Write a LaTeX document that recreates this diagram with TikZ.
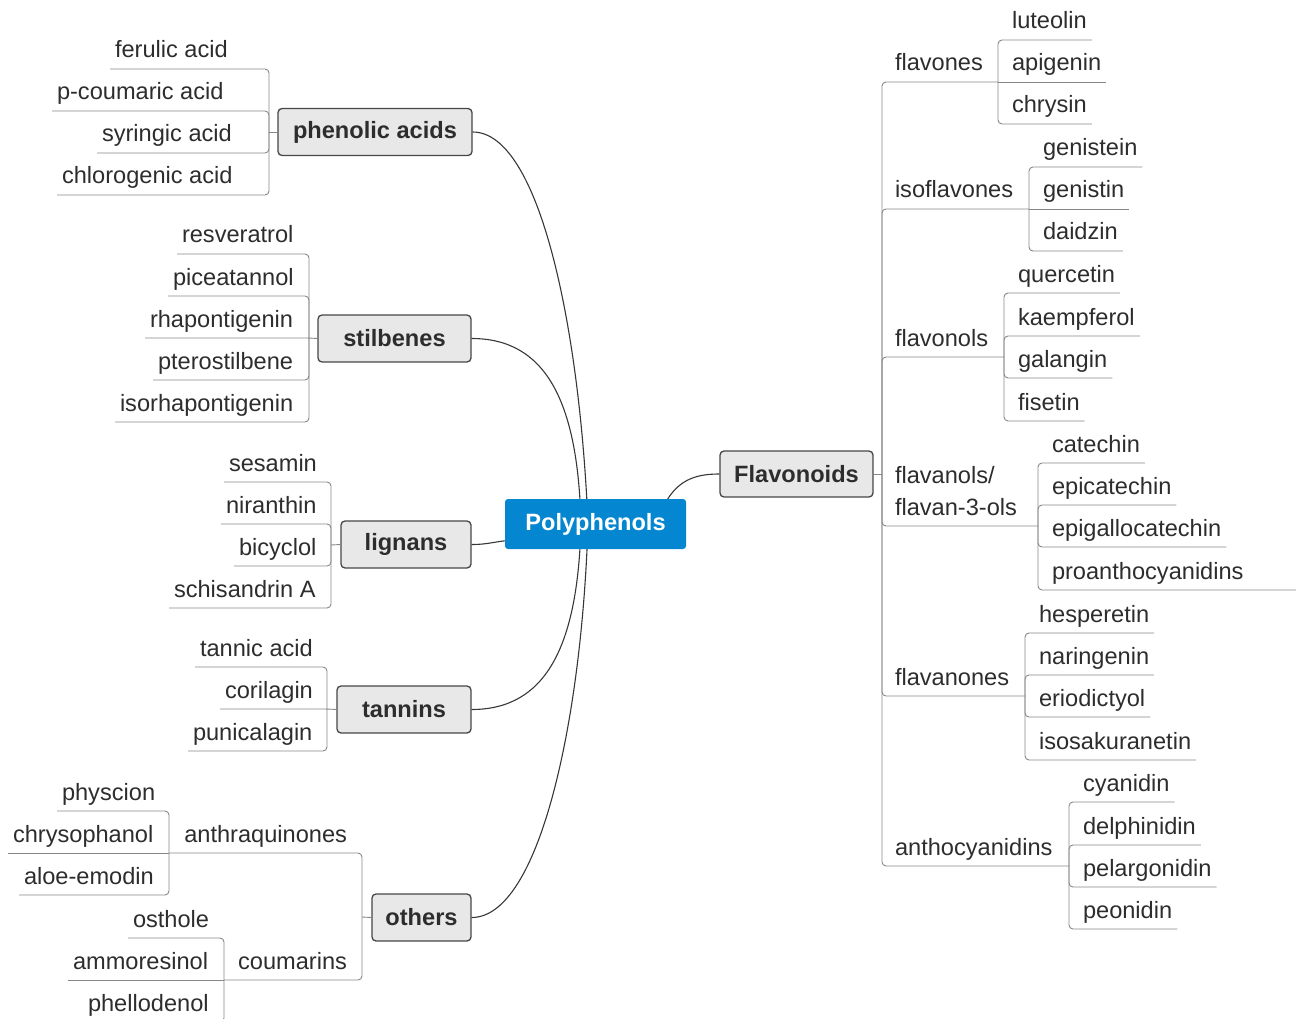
\documentclass[tikz,border=0pt]{standalone}
\usepackage{fontspec}
\setmainfont{Liberation Sans}
\usetikzlibrary{calc}
\definecolor{rootblue}{RGB}{4,134,208}
\definecolor{boxfill}{RGB}{232,232,232}
\definecolor{boxline}{RGB}{70,70,70}
\definecolor{txt}{RGB}{45,45,45}
\definecolor{linegray}{RGB}{135,135,135}
\definecolor{curvegray}{RGB}{55,55,55}
\begin{document}
\begin{tikzpicture}[x=1pt,y=-1pt,
  font=\fontsize{23.6}{32}\selectfont,
  catbox/.style={draw=boxline, fill=boxfill, rounded corners=4pt, line width=1.3pt,
    minimum height=47pt, inner sep=0pt, text=txt, font=\fontsize{23.6}{32}\selectfont\bfseries},
  rootbox/.style={fill=rootblue, rounded corners=3pt, minimum width=181pt, minimum height=50pt,
    inner sep=0pt, text=white, font=\fontsize{23.6}{32}\selectfont\bfseries},
  leaf/.style={inner xsep=5pt, inner ysep=11pt, text depth=0pt, text=txt, outer sep=0pt},
  midnode/.style={inner sep=0pt, text=txt, outer sep=0pt, align=left},
  conn/.style={draw=linegray, line width=0.9pt, rounded corners=4pt},
  curve/.style={draw=curvegray, line width=1.1pt}
]
\useasboundingbox (0,0) rectangle (1296,1019);
\clip (0,0) rectangle (1296,1019);

% ---------- category boxes ----------
\node[catbox, minimum width=194pt] (phen) at (375,132) {phenolic acids};
\node[catbox, minimum width=153pt] (stil) at (394.5,338.5) {stilbenes};
\node[catbox, minimum width=130pt] (lign) at (406,544.5) {lignans};
\node[catbox, minimum width=134pt] (tann) at (404,709.5) {tannins};
\node[catbox, minimum width=99pt]  (oth)  at (421.5,917.5) {others};
\node[catbox, minimum width=153pt, minimum height=46pt] (flav) at (796.5,474) {Flavonoids};

% ---------- curves from root (drawn before root so hidden under it) ----------
\coordinate (rA) at (588,524);
\coordinate (rB) at (581,524);
\coordinate (rL) at (515,540);
\coordinate (rF) at (662,510);
\draw[curve] (phen.east) .. controls (540,132) and (580,330) .. (rA);
\draw[curve] (stil.east) .. controls (545,338.5) and (578,400) .. (rB);
\draw[curve] (lign.east) .. controls (490,544.5) and (495,541) .. (rL);
\draw[curve] (tann.east) .. controls (545,709.5) and (578,648) .. (rB);
\draw[curve] (oth.east) .. controls (540,917.5) and (582,718) .. (rA);
\draw[curve] (rF) .. controls (675,480) and (695,474) .. (flav.west);

\node[rootbox] (root) at (595.5,524) {Polyphenols};

% ---------- phenolic acids ----------
\coordinate (pA) at (269,132);
\node[leaf,anchor=south west] (fer) at (110,69) {ferulic acid};
\node[leaf,anchor=south west] (pco) at (52,111) {p-coumaric acid};
\node[leaf,anchor=south west] (syr) at (97,153) {syringic acid};
\node[leaf,anchor=south west] (chl) at (57,195) {chlorogenic acid};
\draw[conn] (phen.west) -- (pA);
\foreach \n in {fer,pco,syr,chl} \draw[conn] (pA) |- (\n.south west);

% ---------- stilbenes ----------
\coordinate (pS) at (309,338);
\node[leaf,anchor=south west] (res) at (177,254) {resveratrol};
\node[leaf,anchor=south west] (pic) at (168,296) {piceatannol};
\node[leaf,anchor=south west] (rha) at (145,338) {rhapontigenin};
\node[leaf,anchor=south west] (pte) at (153,380) {pterostilbene};
\node[leaf,anchor=south west] (isr) at (115,422) {isorhapontigenin};
\draw[conn] (stil.west) -- (pS) -- (rha.south west);
\foreach \n in {res,pic,pte,isr} \draw[conn] (pS) |- (\n.south west);

% ---------- lignans ----------
\coordinate (pL) at (331,545);
\node[leaf,anchor=south west] (ses) at (224,482) {sesamin};
\node[leaf,anchor=south west] (nir) at (221,524) {niranthin};
\node[leaf,anchor=south west] (bic) at (234,566) {bicyclol};
\node[leaf,anchor=south west] (sch) at (169,608) {schisandrin A};
\draw[conn] (lign.west) -- (pL);
\foreach \n in {ses,nir,bic,sch} \draw[conn] (pL) |- (\n.south west);

% ---------- tannins ----------
\coordinate (pT) at (327,709);
\node[leaf,anchor=south west] (tan) at (195,667) {tannic acid};
\node[leaf,anchor=south west] (cor) at (220,709) {corilagin};
\node[leaf,anchor=south west] (pun) at (188,751) {punicalagin};
\draw[conn] (tann.west) -- (pT) -- (cor.south west);
\foreach \n in {tan,pun} \draw[conn] (pT) |- (\n.south west);

% ---------- others ----------
\coordinate (pO) at (362,917);
\coordinate (sbA) at (169,853);
\coordinate (sbC) at (224,980);
\node[midnode, anchor=base east] (aq) at (347,842) {anthraquinones};
\node[midnode, anchor=base east] (cm) at (347,969) {coumarins};
\draw[conn] (oth.west) -- (pO);
\draw[conn] (pO) |- (sbA);
\draw[conn] (pO) |- (sbC);
\node[leaf,anchor=south west] (phy) at (57,811) {physcion};
\node[leaf,anchor=south west] (chs) at (8,853) {chrysophanol};
\node[leaf,anchor=south west] (alo) at (19,895) {aloe-emodin};
\draw[conn] (sbA) -- (chs.south west);
\foreach \n in {phy,alo} \draw[conn] (sbA) |- (\n.south west);
\node[leaf,anchor=south west] (ost) at (128,938) {osthole};
\node[leaf,anchor=south west] (amm) at (68,980) {ammoresinol};
\node[leaf,anchor=south west] (phl) at (83,1022) {phellodenol};
\draw[conn] (sbC) -- (amm.south west);
\foreach \n in {ost,phl} \draw[conn] (sbC) |- (\n.south west);

% ---------- Flavonoids ----------
\coordinate (pF) at (882,474);
\draw[conn] (flav.east) -- (pF);
\coordinate (s1) at (998,82);
\coordinate (s2) at (1029,209);
\coordinate (s3) at (1004,357);
\coordinate (s4) at (1038,526);
\coordinate (s5) at (1025,696);
\coordinate (s6) at (1069,866);
\node[midnode, anchor=base west] (fl1) at (895,71) {flavones};
\node[midnode, anchor=base west] (fl2) at (895,198) {isoflavones};
\node[midnode, anchor=base west] (fl3) at (895,346) {flavonols};
\node[midnode, anchor=base west] (fl4) at (895,515) {flavanols/\\flavan-3-ols};
\node[midnode, anchor=base west] (fl5) at (895,685) {flavanones};
\node[midnode, anchor=base west] (fl6) at (895,855) {anthocyanidins};
\foreach \s in {s1,s2,s3,s4,s5,s6} \draw[conn] (pF) |- (\s);

% flavones
\node[leaf,anchor=south west] (lut) at (1007,40) {luteolin};
\node[leaf,anchor=south west] (api) at (1007,82) {apigenin};
\node[leaf,anchor=south west] (chy) at (1007,124) {chrysin};
\draw[conn] (s1) -- (api.south east);
\foreach \n in {lut,chy} \draw[conn] (s1) |- (\n.south east);
% isoflavones
\node[leaf,anchor=south west] (gen) at (1038,167) {genistein};
\node[leaf,anchor=south west] (gnt) at (1038,209) {genistin};
\node[leaf,anchor=south west] (dai) at (1038,251) {daidzin};
\draw[conn] (s2) -- (gnt.south east);
\foreach \n in {gen,dai} \draw[conn] (s2) |- (\n.south east);
% flavonols
\node[leaf,anchor=south west] (que) at (1013,293) {quercetin};
\node[leaf,anchor=south west] (kae) at (1013,336) {kaempferol};
\node[leaf,anchor=south west] (gal) at (1013,378) {galangin};
\node[leaf,anchor=south west] (fis) at (1013,421) {fisetin};
\foreach \n in {que,kae,gal,fis} \draw[conn] (s3) |- (\n.south east);
% flavanols
\coordinate (edgeR) at (1296,0);
\node[leaf,anchor=south west] (cat) at (1047,463) {catechin};
\node[leaf,anchor=south west] (epi) at (1047,505) {epicatechin};
\node[leaf,anchor=south west] (egc) at (1047,547) {epigallocatechin};
\node[leaf,anchor=south west] (pro) at (1047,590) {proanthocyanidins};
\foreach \n in {cat,epi,egc} \draw[conn] (s4) |- (\n.south east);
\draw[conn] (s4) |- (pro.south east) -- (pro.south east -| edgeR);
% flavanones
\node[leaf,anchor=south west] (hes) at (1034,633) {hesperetin};
\node[leaf,anchor=south west] (nar) at (1034,675) {naringenin};
\node[leaf,anchor=south west] (eri) at (1034,717) {eriodictyol};
\node[leaf,anchor=south west] (isk) at (1034,760) {isosakuranetin};
\foreach \n in {hes,nar,eri,isk} \draw[conn] (s5) |- (\n.south east);
% anthocyanidins
\node[leaf,anchor=south west] (cya) at (1078,802) {cyanidin};
\node[leaf,anchor=south west] (del) at (1078,845) {delphinidin};
\node[leaf,anchor=south west] (pel) at (1078,887) {pelargonidin};
\node[leaf,anchor=south west] (peo) at (1078,929) {peonidin};
\foreach \n in {cya,del,pel,peo} \draw[conn] (s6) |- (\n.south east);
\end{tikzpicture}
\end{document}
